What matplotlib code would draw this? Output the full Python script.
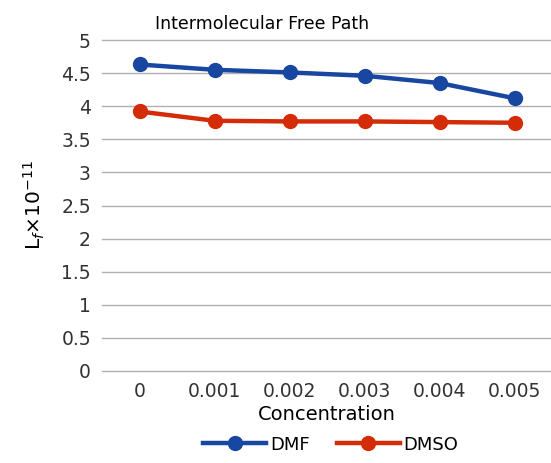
import matplotlib
matplotlib.use("Agg")
import matplotlib.pyplot as plt

concentration = ["0", "0.001", "0.002", "0.003", "0.004", "0.005"]
dmf = [4.63, 4.55, 4.51, 4.46, 4.35, 4.12]
dmso = [3.92, 3.78, 3.77, 3.77, 3.76, 3.75]

blue = "#1747a0"
red = "#d42c08"

fig = plt.figure(figsize=(5.51, 4.63), dpi=100)
ax = fig.add_axes([102 / 551, 1 - 371 / 463, 450 / 551, 331 / 463])

x = range(len(concentration))
ax.plot(x, dmf, color=blue, lw=3.2, marker="o", ms=10, label="DMF")
ax.plot(x, dmso, color=red, lw=3.2, marker="o", ms=10, label="DMSO")

ax.set_xlim(-0.5, 5.5)
ax.set_ylim(0, 5)
ax.set_yticks([0, 0.5, 1, 1.5, 2, 2.5, 3, 3.5, 4, 4.5, 5])
ax.set_yticklabels(["0", "0.5", "1", "1.5", "2", "2.5", "3", "3.5", "4", "4.5", "5"])
ax.set_xticks(list(x))
ax.set_xticklabels(concentration)
ax.tick_params(length=0, labelsize=13.5, colors="#333333", pad=8)
ax.grid(axis="y", color="#b0b0b0", lw=1)
for gl in ax.get_ygridlines():
    gl.set_clip_on(False)
ax.set_axisbelow(True)
for s in ax.spines.values():
    s.set_visible(False)

fig.text(262 / 551, 1 - 24 / 463, "Intermolecular Free Path", fontsize=12.5,
         ha="center", va="center")
ax.set_xlabel("Concentration", fontsize=14, labelpad=3)
ax.set_ylabel(r"L$_f$×10$^{-11}$", fontsize=14.5, labelpad=10)

fig.legend(loc="lower center", bbox_to_anchor=(0.6, -0.015), ncol=2, frameon=False,
           fontsize=13, handlelength=3.5, handletextpad=0.2, columnspacing=1.5)

fig.savefig("out.png", dpi=100)
